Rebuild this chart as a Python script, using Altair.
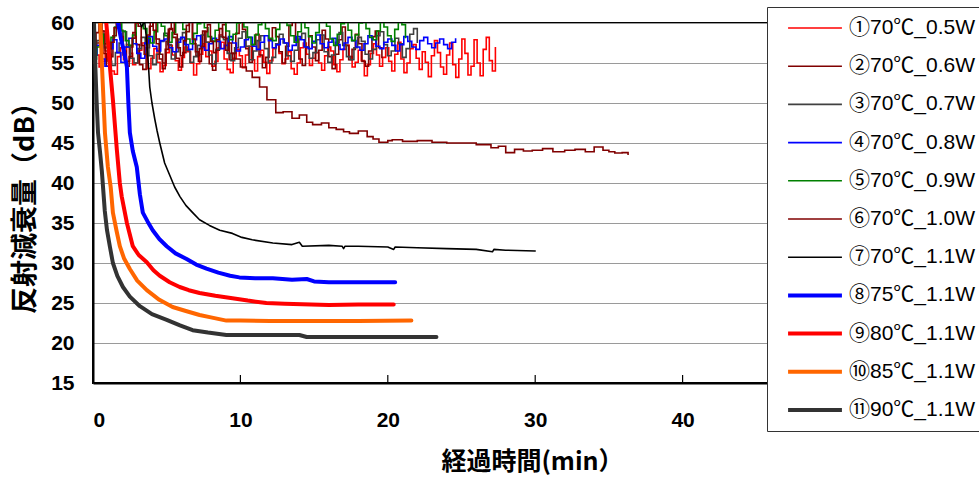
import altair as alt
import pandas as pd

names = ["①70℃_0.5W", "②70℃_0.6W", "③70℃_0.7W", "④70℃_0.8W", "⑤70℃_0.9W",
         "⑥70℃_1.0W", "⑦70℃_1.1W", "⑧75℃_1.1W", "⑨80℃_1.1W", "⑩85℃_1.1W", "⑪90℃_1.1W"]
colors = ["#FF0000", "#800000", "#404040", "#0000FF", "#008000",
          "#800000", "#000000", "#0000FF", "#FF0000", "#FF6600", "#333333"]
widths = [1.6, 1.6, 1.6, 1.6, 1.6, 1.6, 1.6, 4.0, 4.0, 4.0, 4.0]

x_ticks = [0, 10, 20, 30, 40]
y_ticks = [15, 20, 25, 30, 35, 40, 45, 50, 55, 60]

# noisy series: values sampled at a constant interval up to an end time (min)
s1_end = 27.3
s1 = [57.8,56.0,54.5,55.2,57.0,56.1,54.0,53.6,55.8,56.9,55.4,57.3,56.2,54.8,55.0,56.6,57.5,55.9,54.3,55.6,
      56.8,55.1,53.9,54.7,56.3,57.2,56.0,55.3,54.1,55.7,57.0,56.4,55.0,53.5,54.9,56.1,57.4,55.8,56.5,54.6,
      55.2,56.9,57.6,55.5,54.2,53.8,55.6,56.7,55.9,54.4,56.0,57.1,55.4,54.0,55.8,56.6,55.1,53.7,55.3,56.8,
      57.3,56.2,54.9,55.5,56.4,54.3,53.6,55.0,56.9,57.5,56.1,54.7,55.6,56.3,55.0,54.1,55.9,57.0,56.5,54.8,
      53.9,55.4,56.7,57.2,55.8,54.5,55.1,56.6,55.3,53.4,54.8,56.2,57.4,56.0,54.6,55.7,56.9,55.2,54.0,56.1,
      57.6,55.5,53.8,55.0,56.8,57.3,55.6,54.2,56.4,55.1,53.3,55.9,57.8,56.3,54.5,53.6,56.0,57.5,54.8,53.2,
      55.5,58.0,56.2,53.5,54.6,57.9,55.0,53.4,56.7,58.2,55.3,54.0,57.0]
s2_end = 19.6
s2 = [55.0,57.5,59.0,56.2,54.6,55.8,58.4,60.3,59.1,56.5,55.2,57.0,58.8,57.3,54.8,54.2,56.9,59.6,60.4,58.0,
      56.1,55.0,57.7,59.3,58.2,55.6,54.5,56.3,58.9,60.2,57.4,55.9,56.8,59.0,57.6,54.9,54.1,56.6,58.5,59.8,
      58.1,55.4,56.2,58.7,60.5,59.2,56.8,55.1,57.3,58.6,56.0,54.4,55.7,57.9,59.4,58.3,56.4,55.0,57.1,59.7,
      60.1,57.8,55.5,54.7,56.9,58.4,57.0,55.3,56.6,59.1,58.0,55.8,54.3,56.1,57.9,59.5,57.2,55.4,56.7,58.6,
      57.4,55.2,54.6,56.5,58.3,59.0,56.9,55.6]
s3_end = 22.0
s3 = [56.0,57.8,58.6,56.9,55.2,54.7,56.3,57.5,58.9,57.0,55.6,55.0,56.8,58.2,57.4,55.9,54.8,56.1,57.7,58.7,
      57.3,55.5,56.4,58.0,58.8,56.6,55.1,55.8,57.2,58.5,57.6,56.0,54.9,56.7,58.3,57.9,56.2,55.3,56.9,58.1,
      58.9,57.1,55.4,56.5,57.8,58.4,56.8,55.0,55.7,57.4,58.6,57.5,55.9,55.2,56.6,58.0,58.7,57.0,55.6,56.3,
      57.9,58.5,56.4,55.1,56.0,57.6,58.8,57.2,55.8,55.4,56.9,58.2,57.7,56.1,55.5,56.7,58.4,58.9,57.3,55.9,
      56.5,58.1,57.4,55.7,56.8,58.6,59.3,57.5]
s4_end = 24.6
s4 = [56.0,57.2,55.5,54.6,56.8,57.9,56.3,55.1,57.0,58.1,57.4,56.2,55.6,57.5,58.3,57.1,56.5,57.8,58.0,56.9,
      56.4,57.6,58.2,57.3,56.7,57.9,58.4,57.0,56.6,57.4,58.1,57.7,56.8,57.2,58.3,57.5,56.5,57.0,57.9,58.2,
      57.1,56.7,57.6,58.4,57.8,56.9,57.3,58.0,57.5,56.6,57.2,58.3,57.9,57.0,56.8,57.7,58.5,57.4,56.9,57.6,
      58.1,57.3,56.7,57.5,58.2,57.8,57.0,56.6,57.4,58.4,57.9,57.1,56.8,57.6,58.0,57.2,56.5,57.3,58.3,57.7,
      57.0,56.7,57.8,58.2,57.4,56.9,57.5,58.0,57.3,56.8,57.6,58.1]
s5_end = 21.2
s5 = [55.5,57.0,58.6,57.4,56.8,58.2,59.5,60.4,59.0,57.8,57.2,58.5,60.0,60.6,59.3,58.1,57.5,58.9,60.2,59.6,
      58.4,57.6,58.8,60.3,60.8,59.2,58.0,57.4,58.7,59.9,60.5,59.4,58.3,57.7,59.1,60.1,60.7,59.0,57.9,58.6,
      60.0,60.4,59.5,58.2,57.3,58.5,59.8,60.6,59.3,58.1,57.8,59.2,60.3,60.8,59.7,58.4,57.6,58.9,60.2,59.4,
      58.3,57.5,58.8,60.1,60.5,59.6,58.0,57.2,58.6,59.9,60.4,59.1,57.8,58.5,60.0,60.7,59.3,58.2,57.9,59.0,
      60.3,59.5,58.4,57.7,59.2,60.6,59.8,58.1]
s6_noise_end = 9.6
s6_noise = [57.0,58.8,60.2,59.0,56.5,55.4,57.6,59.4,60.5,58.3,56.0,54.6,55.8,58.1,60.0,59.6,57.2,56.1,58.5,60.3,
            59.1,57.4,55.5,54.3,56.7,59.2,60.4,58.6,56.9,55.9,57.8,59.7,60.1,58.0,56.4,55.2,57.1,58.9,59.8,57.7,
            56.3,57.9,59.3,58.2,56.6,57.5,56.2,55.5]
s6_t = [10.0,10.4,10.8,11.3,11.8,12.4,12.9,13.5,14.0,14.5,14.9,15.5,16.0,16.5,17.0,17.4,18.0,18.6,19.0,19.4,
        20.0,20.3,21.0,22.0,23.0,24.0,25.3,26.0,27.0,27.5,28.0,28.6,29.2,29.8,30.5,31.2,32.0,32.7,33.4,34.0,
        34.6,35.0,35.4,35.9,36.3]
s6_v = [54.5,54.0,53.2,52.0,50.4,48.8,48.9,48.1,48.5,47.6,47.3,47.5,46.9,46.7,46.4,46.2,46.5,45.8,45.5,45.1,
        45.3,45.4,45.2,45.3,45.1,45.0,45.0,44.8,44.4,44.6,43.8,44.2,44.0,44.1,44.3,43.9,44.1,44.2,43.9,44.5,
        44.1,43.9,43.75,43.8,43.5]
s7_t = [3.0,3.3,3.5,3.6,3.75,3.85,4.0,4.19,4.35,4.53,4.86,5.2,5.54,5.9,6.3,6.76,7.23,7.9,8.6,9.46,
        10.1,10.8,12.2,13.5,14.0,14.2,16.0,16.9,17.0,17.1,18.0,20.0,20.4,20.5,22.0,24.0,26.0,27.1,27.2,28.0,30.0]
s7_v = [61.0,59.5,60.3,58.5,55.0,52.0,50.0,48.0,46.5,45.0,42.5,41.0,39.5,38.3,37.2,36.3,35.4,34.7,34.1,33.7,
        33.2,32.9,32.5,32.3,32.6,32.1,32.2,32.1,31.8,32.1,32.1,32.0,31.7,32.0,31.9,31.8,31.7,31.4,31.7,31.6,31.5]
s8_t = [1.5,1.7,1.9,2.1,2.3,2.4,2.5,2.7,2.97,3.18,3.38,3.7,4.05,4.5,5.0,5.6,6.35,7.0,7.7,8.5,
        9.3,9.93,11.0,12.2,13.5,14.5,15.0,16.0,17.0,18.5,20.5]
s8_v = [61,60,58,56.5,54.5,50,46.3,44,42,38.6,36.3,35.2,34.1,33.0,32.1,31.2,30.5,29.8,29.3,28.8,
        28.4,28.2,28.1,28.1,27.9,28.0,27.7,27.6,27.6,27.6,27.6]
s9_t = [0.7,0.9,1.0,1.15,1.35,1.62,1.82,1.95,2.3,2.7,3.1,3.65,4.1,4.53,5.2,5.88,6.5,7.23,8.3,9.46,
        10.5,11.76,13,16,18,20.4]
s9_v = [61,60,58,54.5,50.4,44.1,40,38.3,35,32.1,31,30.1,29.1,28.4,27.6,27.0,26.6,26.25,25.9,25.6,
        25.3,25.0,24.9,24.75,24.8,24.8]
s10_t = [0.4,0.5,0.6,0.81,1.01,1.2,1.35,1.6,1.82,2.1,2.5,3.0,3.65,4.5,5.4,6.3,7.23,8.0,9.05,10,
         12,16,18,21.6]
s10_v = [61,60,55,46.3,42,39.5,36.3,34,32.1,30.6,29.25,27.8,26.6,25.4,24.5,24.0,23.5,23.2,22.8,22.8,
         22.75,22.75,22.75,22.8]
s11_t = [0.05,0.15,0.25,0.34,0.47,0.6,0.68,0.8,0.95,1.15,1.35,1.65,2.03,2.5,3.18,4.0,5.0,5.9,6.76,7.8,
         9.05,11,14,14.5,18,23.3]
s11_v = [61,55,50,46.3,44,41.5,39.5,36.5,34.1,32,30,28.4,27,25.8,24.6,23.6,22.9,22.2,21.6,21.3,
         21.0,21.0,21.0,20.75,20.75,20.75]

noisy_rows = []
curve_rows = []
order = 0


def add_sampled(rows, name, vals, end):
    global order
    n = len(vals)
    for i, v in enumerate(vals):
        rows.append({"s": name, "t": end * i / (n - 1), "v": v, "o": order})
        order += 1


def add_pairs(rows, name, ts, vs):
    global order
    for t, v in zip(ts, vs):
        rows.append({"s": name, "t": t, "v": v, "o": order})
        order += 1


add_sampled(noisy_rows, names[0], s1, s1_end)
add_sampled(noisy_rows, names[1], s2, s2_end)
add_sampled(noisy_rows, names[2], s3, s3_end)
add_sampled(noisy_rows, names[3], s4, s4_end)
add_sampled(noisy_rows, names[4], s5, s5_end)
add_sampled(noisy_rows, names[5], s6_noise, s6_noise_end)
add_pairs(noisy_rows, names[5], s6_t, s6_v)
add_pairs(curve_rows, names[6], s7_t, s7_v)
add_pairs(curve_rows, names[7], s8_t, s8_v)
add_pairs(curve_rows, names[8], s9_t, s9_v)
add_pairs(curve_rows, names[9], s10_t, s10_v)
add_pairs(curve_rows, names[10], s11_t, s11_v)

noisy_df = pd.DataFrame(noisy_rows)
curve_df = pd.DataFrame(curve_rows)
ticks_df = pd.DataFrame({"t": x_ticks[1:], "v": [15] * 4, "b": [16] * 4})

num_font = "Liberation Sans"
jp_font = "Noto Sans CJK JP"

xscale = alt.Scale(domain=[0, 50], nice=False)
yscale = alt.Scale(domain=[15, 60], nice=False, zero=False)

x_axis = alt.Axis(values=x_ticks, title="経過時間(min）", grid=False, ticks=False,
                  domainColor="black", domainWidth=2, labelOverlap=False,
                  labelFont=num_font, labelFontSize=21, labelFontWeight="bold",
                  labelColor="black", labelPadding=26,
                  titleFont=jp_font, titleFontSize=25, titleFontWeight="bold",
                  titleColor="black", titleX=439, titleY=78,
                  titleAlign="center", titleBaseline="middle")
y_axis = alt.Axis(values=y_ticks, title="反射減衰量（dB）", grid=True,
                  gridColor="#9A9A9A", gridWidth=1, ticks=False,
                  domainColor="black", domainWidth=2, labelOverlap=False,
                  labelFont=num_font, labelFontSize=21, labelFontWeight="bold",
                  labelColor="black", labelPadding=19,
                  titleFont=jp_font, titleFontSize=27, titleFontWeight="bold",
                  titleColor="black", titleX=-68, titleY=178, titleAngle=270,
                  titleAlign="center", titleBaseline="middle")

X = alt.X("t:Q", scale=xscale, axis=x_axis)
Y = alt.Y("v:Q", scale=yscale, axis=y_axis)
C = alt.Color("s:N", scale=alt.Scale(domain=names, range=colors), legend=alt.Legend(title=None))
W = alt.StrokeWidth("s:N", scale=alt.Scale(type="ordinal", domain=names, range=widths),
                    legend=alt.Legend(title=None))

noisy = alt.Chart(noisy_df).mark_line(clip=True, interpolate="step-after", strokeJoin="miter").encode(
    x=X, y=Y, color=C, strokeWidth=W, order=alt.Order("o:Q"))

curves = alt.Chart(curve_df).mark_line(clip=True, strokeCap="round", strokeJoin="round").encode(
    x=X, y=Y, color=C, strokeWidth=W, order=alt.Order("o:Q"))

tick_rules = alt.Chart(ticks_df).mark_rule(color="black", strokeWidth=1.2).encode(
    x=X, y=Y, y2="b:Q")

chart = alt.layer(noisy, curves, tick_rules).properties(
    width=737, height=360, background="white",
    padding={"left": 93, "top": 23, "right": 149, "bottom": 94},
    autosize=alt.AutoSizeParams(type="none"),
).configure_view(stroke="black", strokeWidth=2).configure_legend(
    orient="none", legendX=674, legendY=-16,
    fillColor="white", strokeColor="#333333", strokeWidth=1,
    padding=10, symbolOffset=9, symbolType="stroke", symbolSize=2900, clipHeight=22,
    labelFont="Liberation Sans, Noto Sans CJK JP", labelFontSize=21, labelColor="black",
    labelOffset=5, rowPadding=16.2, labelLimit=400,
)

chart.save("out.html", embed_options={"renderer": "svg", "actions": False})
